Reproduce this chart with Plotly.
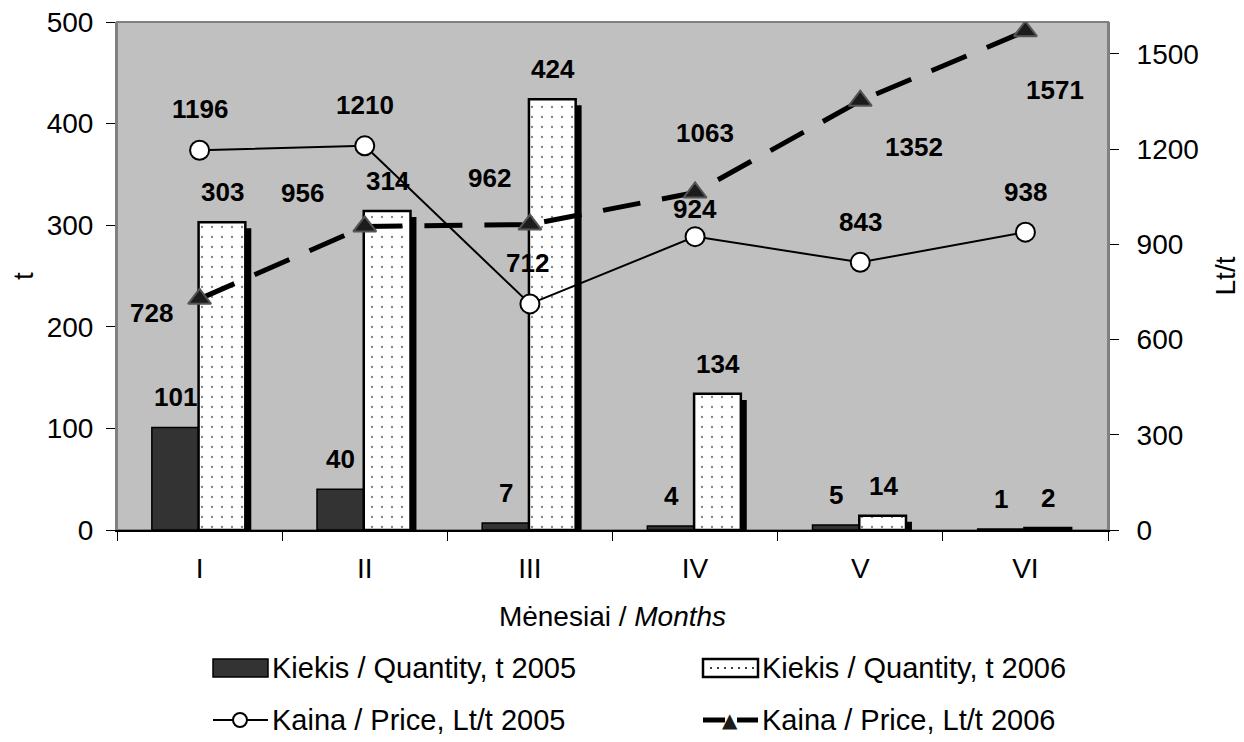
import plotly.graph_objects as go

# ---------------- data ----------------
months = ["I", "II", "III", "IV", "V", "VI"]
qty_2005 = [101, 40, 7, 4, 5, 1]
qty_2006 = [303, 314, 424, 134, 14, 2]
price_2005 = [1196, 1210, 712, 924, 843, 938]
price_2006 = [728, 956, 962, 1063, 1352, 1571]
left_ticks = [0, 100, 200, 300, 400, 500]
right_ticks = [0, 300, 600, 900, 1200, 1500]

name_q05 = "Kiekis / Quantity, t 2005"
name_q06 = "Kiekis / Quantity, t 2006"
name_p05 = "Kaina / Price, Lt/t 2005"
name_p06 = "Kaina / Price, Lt/t 2006"

# ---------------- geometry / style ----------------
W, H = 1244, 742
OFF = 8  # default page body margin
L, R, T, B = 117, 1108, 22, 530   # plot area in page pixels
FONT = "Liberation Sans, Arial, sans-serif"
BG = "#C0C0C0"
DARK = "#333333"

def px2x(px):
    return (px - L) / (R - L)

def py2y(py):
    return (B - py) / (B - T)

# label pixel offsets (style only)
p05_off = [(0, 41), (0, 41), (-2, 41), (0, 28), (0, 40), (0, 40)]
p06_off = [(-48, -14), (-62, 33), (-40, 47), (10, 60), (54, -46), (30, -59)]

fig = go.Figure()

# shadow of 2006 bars
fig.add_trace(go.Bar(
    x=months, y=qty_2006, base=-6, offset=0.03, width=0.283,
    marker=dict(color="black", line=dict(width=0)),
    showlegend=False, hoverinfo="skip"))

fig.add_trace(go.Bar(
    x=months, y=qty_2005, offset=-0.289, width=0.283, name=name_q05,
    marker=dict(color=DARK, line=dict(color="black", width=1.5)),
    showlegend=False))

fig.add_trace(go.Bar(
    x=months, y=qty_2006, offset=-0.006, width=0.283, name=name_q06,
    marker=dict(color="white", line=dict(color="black", width=2.5),
                pattern=dict(shape=".", fgcolor="black", bgcolor="white",
                             size=10, solidity=0.04)),
    showlegend=False))

fig.add_trace(go.Scatter(
    x=months, y=price_2005, yaxis="y2", name=name_p05, mode="lines+markers",
    line=dict(color="black", width=2),
    marker=dict(symbol="circle", size=19, color="white",
                line=dict(color="black", width=2)),
    showlegend=False))

fig.add_trace(go.Scatter(
    x=months, y=price_2006, yaxis="y2", name=name_p06, mode="lines+markers",
    line=dict(color="black", width=5, dash="38px,22px"),
    marker=dict(symbol="triangle-up", size=20, color="#1c1c1c",
                line=dict(color="#555555", width=2)),
    showlegend=False))

annotations = []
lab_font = dict(family=FONT, size=26, color="black")
for m, v in zip(months, qty_2005):
    annotations.append(dict(x=m, y=v, xref="x", yref="y", text=f"<b>{v}</b>",
                            showarrow=False, xshift=-24, yshift=30, font=lab_font))
for m, v in zip(months, qty_2006):
    annotations.append(dict(x=m, y=v, xref="x", yref="y", text=f"<b>{v}</b>",
                            showarrow=False, xshift=23, yshift=30, font=lab_font))
for m, v, (dx, dy) in zip(months, price_2005, p05_off):
    annotations.append(dict(x=m, y=v, xref="x", yref="y2", text=f"<b>{v}</b>",
                            showarrow=False, xshift=dx, yshift=dy, font=lab_font))
for m, v, (dx, dy) in zip(months, price_2006, p06_off):
    annotations.append(dict(x=m, y=v, xref="x", yref="y2", text=f"<b>{v}</b>",
                            showarrow=False, xshift=dx, yshift=dy, font=lab_font))

# ---------------- custom legend ----------------
leg_font = dict(family=FONT, size=29, color="black")
row1, row2 = 668, 720
col1, col2 = 213, 703
sw = 55
shapes = []
# plot border (gray)
shapes.append(dict(type="rect", xref="paper", yref="paper", x0=0, x1=1, y0=0, y1=1,
                   line=dict(color="#808080", width=2), layer="below"))
# dark swatch
shapes.append(dict(type="rect", xref="paper", yref="paper",
                   x0=px2x(col1), x1=px2x(col1 + sw), y0=py2y(row1 + 9), y1=py2y(row1 - 9),
                   fillcolor=DARK, line=dict(color="black", width=1.5)))
# dotted swatch
shapes.append(dict(type="rect", xref="paper", yref="paper",
                   x0=px2x(col2), x1=px2x(col2 + sw), y0=py2y(row1 + 9), y1=py2y(row1 - 9),
                   fillcolor="white", line=dict(color="black", width=2.5)))
for dxp in range(8, sw - 4, 7):
    shapes.append(dict(type="circle", xref="paper", yref="paper",
                       xsizemode="pixel", ysizemode="pixel",
                       xanchor=px2x(col2 + dxp), yanchor=py2y(row1),
                       x0=-1, x1=1, y0=-1, y1=1,
                       fillcolor="black", line=dict(width=0)))
# 2005 price line symbol
shapes.append(dict(type="line", xref="paper", yref="paper",
                   x0=px2x(col1), x1=px2x(col1 + sw), y0=py2y(row2), y1=py2y(row2),
                   line=dict(color="black", width=2)))
shapes.append(dict(type="circle", xref="paper", yref="paper",
                   xsizemode="pixel", ysizemode="pixel",
                   xanchor=px2x(col1 + 27), yanchor=py2y(row2),
                   x0=-7, x1=7, y0=-7, y1=7,
                   fillcolor="white", line=dict(color="black", width=2)))
# 2006 price line symbol
shapes.append(dict(type="line", xref="paper", yref="paper",
                   x0=px2x(col2), x1=px2x(col2 + 22), y0=py2y(row2), y1=py2y(row2),
                   line=dict(color="black", width=5)))
shapes.append(dict(type="line", xref="paper", yref="paper",
                   x0=px2x(col2 + 34), x1=px2x(col2 + sw), y0=py2y(row2), y1=py2y(row2),
                   line=dict(color="black", width=5)))
annotations.append(dict(x=px2x(col2 + 27), y=py2y(row2), xref="paper", yref="paper",
                        text="▲", showarrow=False, font=dict(family="DejaVu Sans", size=20, color="#1c1c1c"),
                        xanchor="center", yanchor="middle"))

for (cx, cy, txt) in [(col1, row1, name_q05), (col2, row1, name_q06),
                      (col1, row2, name_p05), (col2, row2, name_p06)]:
    annotations.append(dict(x=px2x(cx + sw + 2), y=py2y(cy), xref="paper", yref="paper",
                            text=txt, showarrow=False, xanchor="left", yanchor="middle",
                            font=leg_font))

tick_font = dict(family=FONT, size=28, color="black")
fig.update_layout(
    width=W, height=H,
    margin=dict(l=L - OFF, r=W - (R - OFF), t=T - OFF, b=H - (B - OFF), pad=0),
    paper_bgcolor="white", plot_bgcolor=BG,
    barmode="overlay", showlegend=False,
    font=dict(family=FONT, size=28, color="black"),
    xaxis=dict(type="category", categoryorder="array", categoryarray=months,
               range=[-0.5, 5.5], tickson="boundaries", ticks="outside", ticklen=9,
               tickcolor="black", tickwidth=1, showline=True, linecolor="black", linewidth=2,
               showgrid=False, zeroline=False, tickfont=tick_font, ticklabelstandoff=12,
               automargin=False, ticklabeloverflow="allow",
               title=dict(text="Mėnesiai / <i>Months</i>", font=tick_font, standoff=24)),
    yaxis=dict(range=[0, 500], tickvals=left_ticks, ticks="outside", ticklen=9,
               tickcolor="black", tickwidth=1, showline=True, linecolor="#808080", linewidth=2,
               showgrid=False, zeroline=False, tickfont=tick_font, ticklabelstandoff=7,
               automargin=False, ticklabeloverflow="allow",
               title=dict(text="t", font=tick_font, standoff=14)),
    yaxis2=dict(range=[0, 1600], tickvals=right_ticks, overlaying="y", side="right",
                ticks="outside", ticklen=9, tickcolor="black", tickwidth=1,
                showline=True, linecolor="#808080", linewidth=2,
                showgrid=False, zeroline=False, tickfont=tick_font, ticklabelstandoff=12,
                automargin=False, ticklabeloverflow="allow",
                title=dict(text="Lt/t", font=tick_font, standoff=18)),
    annotations=annotations, shapes=shapes,
)

fig.write_html("out.html")
